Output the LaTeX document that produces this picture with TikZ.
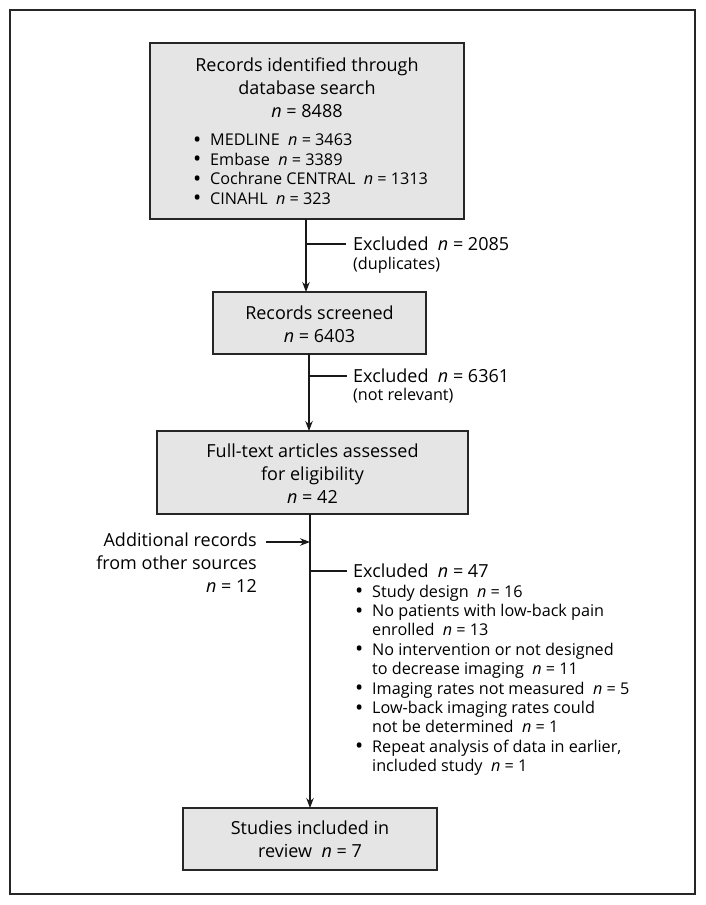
\documentclass[tikz,border=0pt]{standalone}
\usepackage{fontspec}
\usepackage{graphicx}
\setmainfont{Open Sans}
\usetikzlibrary{arrows.meta}
\tikzset{
  box/.style={draw=black!85, line width=1.2pt, fill=black!10, inner sep=0pt},
  big/.style={font=\fontsize{18}{23}\selectfont, inner sep=0pt, align=center},
  small/.style={font=\fontsize{16.2}{19.4}\selectfont, inner sep=0pt},
  conn/.style={draw=black!90, line width=1.1pt},
  arr/.style={conn, -{Stealth[length=10pt,width=7.5pt]}},
}
\newcommand{\nn}{\textit{n}}
\newcommand{\bul}{\makebox[17pt][l]{\raisebox{-0.1em}{\scalebox{1.35}{\textbullet}}}}
\newcommand{\ind}{\hspace*{17pt}}
\begin{document}
\begin{tikzpicture}[x=1pt,y=-1pt]
\useasboundingbox (0,0) rectangle (706,905);
\draw[draw=black!85, line width=1.2pt] (10,10) rectangle (695,894);
% boxes
\node[box, minimum width=314pt, minimum height=176pt] (b1) at (307,131) {};
\node[box, minimum width=213pt, minimum height=62pt] (b2) at (319.5,323) {};
\node[box, minimum width=311pt, minimum height=83pt] (b3) at (312.5,472.5) {};
\node[box, minimum width=254pt, minimum height=62pt] (b4) at (310,839) {};
% box texts
\node[big, anchor=center] (t1) at (307,88) {Records identified through\\database search\\\nn{} = 8488};
\node[small, align=left, anchor=base west] (l1) at (193,204) {\bul MEDLINE\ \ \nn{} = 3463\\
\bul Embase\ \ \nn{} = 3389\\
\bul Cochrane CENTRAL\ \ \nn{} = 1313\\
\bul CINAHL\ \ \nn{} = 323};
\node[big] (t2) at (319.5,324.5) {Records screened\\\nn{} = 6403};
\node[big] (t3) at (312.5,474) {Full-text articles assessed\\for eligibility\\\nn{} = 42};
\node[big] (t4) at (310,839) {Studies included in\\review\ \ \nn{} = 7};
% spine coordinates
\coordinate (s1) at (306,219);
\coordinate (s2) at (306,292);
\coordinate (s3) at (309,354);
\coordinate (s4) at (309,431);
\coordinate (s5) at (310,514);
\coordinate (s6) at (310,808);
\draw[arr] (s1) -- (s2);
\draw[arr] (s3) -- (s4);
\draw[arr] (s5) -- (s6);
% exclusion branches
\coordinate (e1) at (306,244);
\coordinate (e2) at (309,376);
\coordinate (e3) at (310,571);
\node[big, anchor=west] (x1) at (353,244) {Excluded\ \ \nn{} = 2085};
\node[small, anchor=west] (x1b) at (353,265) {(duplicates)};
\node[big, anchor=west] (x2) at (353,376) {Excluded\ \ \nn{} = 6361};
\node[small, anchor=west] (x2b) at (353,396) {(not relevant)};
\node[big, anchor=west] (x3) at (353,571) {Excluded\ \ \nn{} = 47};
\draw[conn] (e1) -- ++(40,0);
\draw[conn] (e2) -- ++(38,0);
\draw[conn] (e3) -- ++(37,0);
% exclusion list
\node[small, align=left, anchor=base west] (xl) at (355,771.6) {\bul Study design\ \ \nn{} = 16\\
\bul No patients with low-back pain\\
\ind enrolled\ \ \nn{} = 13\\
\bul No intervention or not designed\\
\ind to decrease imaging\ \ \nn{} = 11\\
\bul Imaging rates not measured\ \ \nn{} = 5\\
\bul Low-back imaging rates could\\
\ind not be determined\ \ \nn{} = 1\\
\bul Repeat analysis of data in earlier,\\
\ind included study\ \ \nn{} = 1};
% additional records
\node[big, anchor=east, align=right] (ad) at (257,563) {Additional records\\from other sources\\\nn{} = 12};
\coordinate (a1) at (266,542);
\coordinate (a2) at (310,542);
\draw[arr] (a1) -- (a2);
\end{tikzpicture}
\end{document}
